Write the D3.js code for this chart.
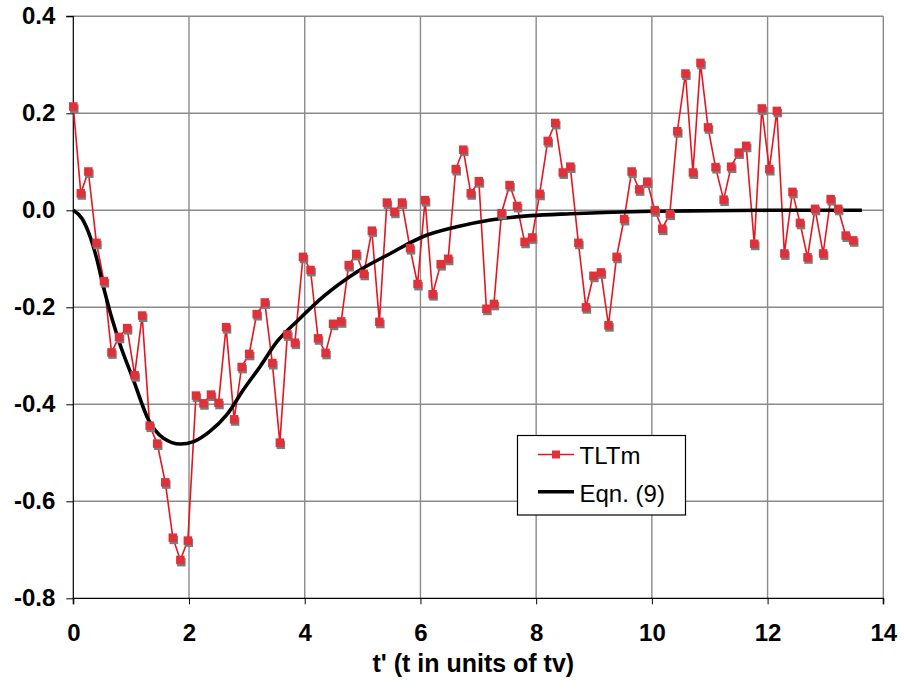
<!DOCTYPE html>
<html>
<head>
<meta charset="utf-8">
<script src="https://cdn.jsdelivr.net/npm/d3@7"></script>
<style>
  body { margin: 0; background: #fff; }
  svg text { font-family: "Liberation Sans", Arial, sans-serif; }
</style>
</head>
<body>
<div id="chart"></div>
<script>
// TLTm series (t', value)
var tltmT = [0, 0.13, 0.26, 0.40, 0.53, 0.66, 0.79, 0.93, 1.06, 1.19,
  1.32, 1.45, 1.59, 1.72, 1.85, 1.98, 2.12, 2.25, 2.38, 2.51,
  2.64, 2.78, 2.91, 3.04, 3.17, 3.31, 3.44, 3.57, 3.70, 3.83,
  3.97, 4.10, 4.23, 4.36, 4.49, 4.63, 4.76, 4.89, 5.02, 5.16,
  5.29, 5.42, 5.55, 5.68, 5.82, 5.95, 6.08, 6.21, 6.35, 6.48,
  6.61, 6.74, 6.87, 7.01, 7.14, 7.27, 7.40, 7.54, 7.67, 7.80,
  7.93, 8.06, 8.20, 8.33, 8.46, 8.59, 8.73, 8.86, 8.99, 9.12,
  9.25, 9.39, 9.52, 9.65, 9.78, 9.92, 10.05, 10.18, 10.31, 10.44,
  10.58, 10.71, 10.84, 10.97, 11.10, 11.24, 11.37, 11.50, 11.63, 11.77,
  11.90, 12.03, 12.16, 12.29, 12.43, 12.56, 12.69, 12.82, 12.96, 13.09,
  13.22, 13.35, 13.48];
var tltmY = [0.214, 0.035, 0.080, -0.067, -0.146, -0.293, -0.261, -0.243, -0.340, -0.217,
  -0.444, -0.481, -0.561, -0.675, -0.721, -0.681, -0.382, -0.398, -0.380, -0.397,
  -0.241, -0.431, -0.323, -0.296, -0.214, -0.190, -0.315, -0.479, -0.256, -0.273,
  -0.096, -0.123, -0.264, -0.294, -0.234, -0.229, -0.113, -0.090, -0.131, -0.042,
  -0.230, 0.016, -0.003, 0.016, -0.078, -0.152, 0.021, -0.173, -0.111, -0.100,
  0.085, 0.125, 0.035, 0.060, -0.203, -0.193, -0.006, 0.052, 0.009, -0.065,
  -0.056, 0.034, 0.143, 0.180, 0.078, 0.090, -0.067, -0.200, -0.135, -0.128,
  -0.237, -0.096, -0.018, 0.080, 0.043, 0.059, 0.000, -0.038, -0.007, 0.163,
  0.282, 0.078, 0.304, 0.171, 0.089, 0.022, 0.090, 0.119, 0.133, -0.069,
  0.210, 0.085, 0.205, -0.089, 0.038, -0.026, -0.097, 0.003, -0.089, 0.023,
  0.003, -0.052, -0.062];

// Eqn. (9) curve
var eqnT = [0, 0.15, 0.29, 0.41, 0.52, 0.78, 1.04, 1.30, 1.56, 1.85,
  2.08, 2.36, 2.65, 2.94, 3.23, 3.52, 3.89, 4.32, 4.90, 5.48,
  6.05, 6.63, 7.21, 7.90, 8.60, 9.30, 10.0, 11.0, 12.0, 13.0, 13.63];
var eqnY = [0, -0.017, -0.054, -0.102, -0.158, -0.267, -0.350, -0.432, -0.470, -0.482,
  -0.477, -0.456, -0.422, -0.370, -0.322, -0.271, -0.226, -0.178, -0.127, -0.089,
  -0.054, -0.034, -0.020, -0.011, -0.007, -0.004, -0.002, -0.001, 0, 0, 0];

var xTicks = [0, 2, 4, 6, 8, 10, 12, 14];
var yTicks = [-0.8, -0.6, -0.4, -0.2, 0.0, 0.2, 0.4];
var seriesNames = ["TLTm", "Eqn. (9)"];
var xTitle = "t' (t in units of tv)";

var W = 904, H = 690;
var plotL = 73.3, plotR = 883.3, plotT = 16.3, plotB = 598.3;

var x = d3.scaleLinear().domain([0, 14]).range([plotL, plotR]);
var y = d3.scaleLinear().domain([-0.8, 0.4]).range([plotB, plotT]);

var svg = d3.select("#chart").append("svg")
  .attr("width", W).attr("height", H);

// grid
svg.append("g").selectAll("line")
  .data(yTicks.filter(function(d) { return d > -0.8; }))
  .enter().append("line")
  .attr("x1", plotL).attr("x2", plotR)
  .attr("y1", function(d) { return y(d); }).attr("y2", function(d) { return y(d); })
  .attr("stroke", "#8a8a8a").attr("stroke-width", 1.4);
svg.append("g").selectAll("line")
  .data(xTicks.filter(function(d) { return d > 0; }))
  .enter().append("line")
  .attr("y1", plotT).attr("y2", plotB)
  .attr("x1", function(d) { return x(d); }).attr("x2", function(d) { return x(d); })
  .attr("stroke", "#8a8a8a").attr("stroke-width", 1.4);

// axes
var yAxis = d3.axisLeft(y).tickValues(yTicks).tickSize(7).tickPadding(11)
  .tickFormat(function(d) { return d.toFixed(1); });
var gy = svg.append("g").attr("transform", "translate(" + plotL + ",0)").call(yAxis);
var xAxis = d3.axisBottom(x).tickValues(xTicks).tickSize(6).tickPadding(20)
  .tickFormat(d3.format("d"));
var gx = svg.append("g").attr("transform", "translate(0," + plotB + ")").call(xAxis);

[gx, gy].forEach(function(g) {
  g.select(".domain").attr("stroke", "#000").attr("stroke-width", 1.2);
  g.selectAll(".tick line").attr("stroke", "#000");
  g.selectAll("text").attr("font-size", 24).attr("font-weight", "bold")
    .attr("fill", "#000").style("font-family", "'Liberation Sans', Arial, sans-serif");
});
gy.select(".domain").attr("d", "M-7," + y(0.4) + "H0V" + plotB);
gx.select(".domain").attr("d", "M" + plotL + ",6V0H" + plotR + "V6");

svg.append("text")
  .attr("x", (plotL + plotR) / 2 - 5).attr("y", 672)
  .attr("text-anchor", "middle").attr("font-size", 25).attr("font-weight", "bold")
  .text(xTitle);

// TLTm
var pts = tltmT.map(function(t, i) { return [t, tltmY[i]]; });
var line = d3.line().x(function(d) { return x(d[0]); }).y(function(d) { return y(d[1]); });
svg.append("path").datum(pts)
  .attr("fill", "none").attr("stroke", "#e4161f").attr("stroke-width", 1.6)
  .attr("d", line);

// Eqn (9)
var eq = eqnT.map(function(t, i) { return [t, eqnY[i]]; });
svg.append("path").datum(eq)
  .attr("fill", "none").attr("stroke", "#000").attr("stroke-width", 3.6)
  .attr("stroke-linejoin", "round")
  .attr("d", d3.line().x(function(d) { return x(d[0]); }).y(function(d) { return y(d[1]); })
    .curve(d3.curveMonotoneX));

// markers with shadow
var ms = 8.5;
svg.append("g").selectAll("rect")
  .data(pts).enter().append("rect")
  .attr("x", function(d) { return x(d[0]) - ms / 2 + 1; })
  .attr("y", function(d) { return y(d[1]) - ms / 2 + 2.2; })
  .attr("width", ms).attr("height", ms).attr("fill", "#7c7c7c");
svg.append("g").selectAll("rect")
  .data(pts).enter().append("rect")
  .attr("x", function(d) { return x(d[0]) - ms / 2; })
  .attr("y", function(d) { return y(d[1]) - ms / 2; })
  .attr("width", ms).attr("height", ms).attr("fill", "#e0313a");

// legend
var lg = svg.append("g");
lg.append("rect").attr("x", 517.5).attr("y", 435.5).attr("width", 168).attr("height", 79.5)
  .attr("fill", "#fff").attr("stroke", "#000").attr("stroke-width", 1.2);
lg.append("line").attr("x1", 538).attr("x2", 574).attr("y1", 454.5).attr("y2", 454.5)
  .attr("stroke", "#e4161f").attr("stroke-width", 1.6);
lg.append("rect").attr("x", 552).attr("y", 450.5).attr("width", 8).attr("height", 8)
  .attr("fill", "#e0313a");
lg.append("line").attr("x1", 538).attr("x2", 574).attr("y1", 491.7).attr("y2", 491.7)
  .attr("stroke", "#000").attr("stroke-width", 3.6);
lg.selectAll("text.lab").data(seriesNames).enter().append("text")
  .attr("x", 579.5).attr("y", function(d, i) { return i === 0 ? 464 : 501.5; })
  .attr("font-size", 24).text(function(d) { return d; });
</script>
</body>
</html>
